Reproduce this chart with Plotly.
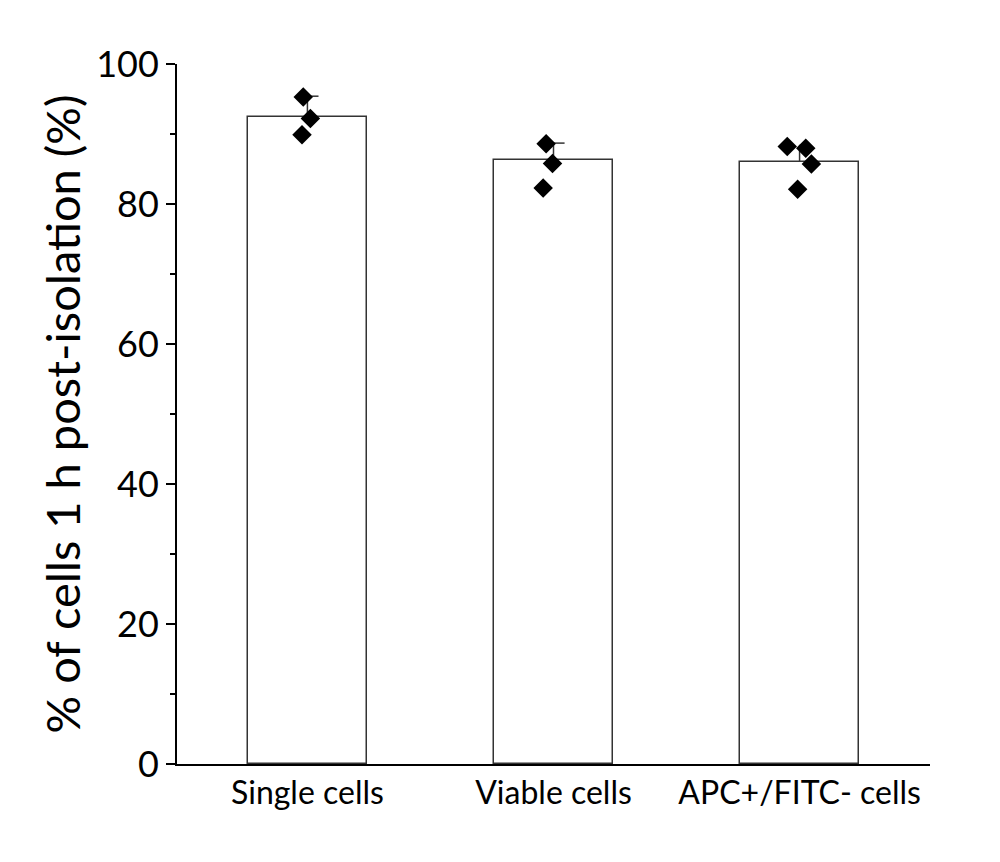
import plotly.graph_objects as go

categories = ["Single cells", "Viable cells", "APC+/FITC- cells"]
means = [92.4, 86.3, 86.0]
err_upper = [3.0, 2.4, 2.4]
points = [
    [95.3, 92.2, 89.9],
    [88.6, 85.8, 82.3],
    [88.2, 87.95, 85.7, 82.1],
]
jitter = [
    [-0.017, 0.012, -0.022],
    [-0.03, -0.004, -0.042],
    [-0.05, 0.025, 0.048, -0.008],
]

FONT = "Lato"
xs = list(range(len(categories)))

fig = go.Figure()
fig.add_trace(go.Bar(
    x=xs, y=means, width=0.485,
    marker=dict(color="white", line=dict(color="#333", width=1.5)),
    error_y=dict(type="data", symmetric=False, array=err_upper,
                 arrayminus=[0] * len(means), width=0, color="#333", thickness=1.5),
    showlegend=False,
))
# half caps on error bars
cx, cy = [], []
for i, (m, e) in enumerate(zip(means, err_upper)):
    cx += [i, i + 0.045, None]
    cy += [m + e, m + e, None]
fig.add_trace(go.Scatter(x=cx, y=cy, mode="lines",
                         line=dict(color="#333", width=1.5), showlegend=False))
px, py = [], []
for i, (vals, js) in enumerate(zip(points, jitter)):
    for v, j in zip(vals, js):
        px.append(i + j)
        py.append(v)
fig.add_trace(go.Scatter(x=px, y=py, mode="markers",
                         marker=dict(symbol="diamond", size=15, color="black"),
                         showlegend=False))

fig.update_layout(
    width=1000, height=862,
    margin=dict(l=169, r=78, t=56, b=106),
    plot_bgcolor="white", paper_bgcolor="white",
    font=dict(family=FONT, color="black"),
    xaxis=dict(range=[-0.53, 2.53], tickvals=xs, ticktext=categories,
               showline=True, linecolor="black", linewidth=2,
               ticks="", showgrid=False, zeroline=False,
               tickfont=dict(size=32, family=FONT)),
    yaxis=dict(range=[0, 100], tickvals=[0, 20, 40, 60, 80, 100],
               showline=True, linecolor="black", linewidth=2,
               ticks="outside", ticklen=9, tickwidth=2, tickcolor="black",
               minor=dict(tickvals=[10, 30, 50, 70, 90], ticks="outside",
                          ticklen=5, tickwidth=2, tickcolor="black"),
               showgrid=False, zeroline=False,
               tickfont=dict(size=36, family=FONT),
               title=dict(text="% of cells 1 h post-isolation (%)",
                          font=dict(size=47, family=FONT), standoff=1)),
    bargap=0,
)
fig.write_html("out.html")
